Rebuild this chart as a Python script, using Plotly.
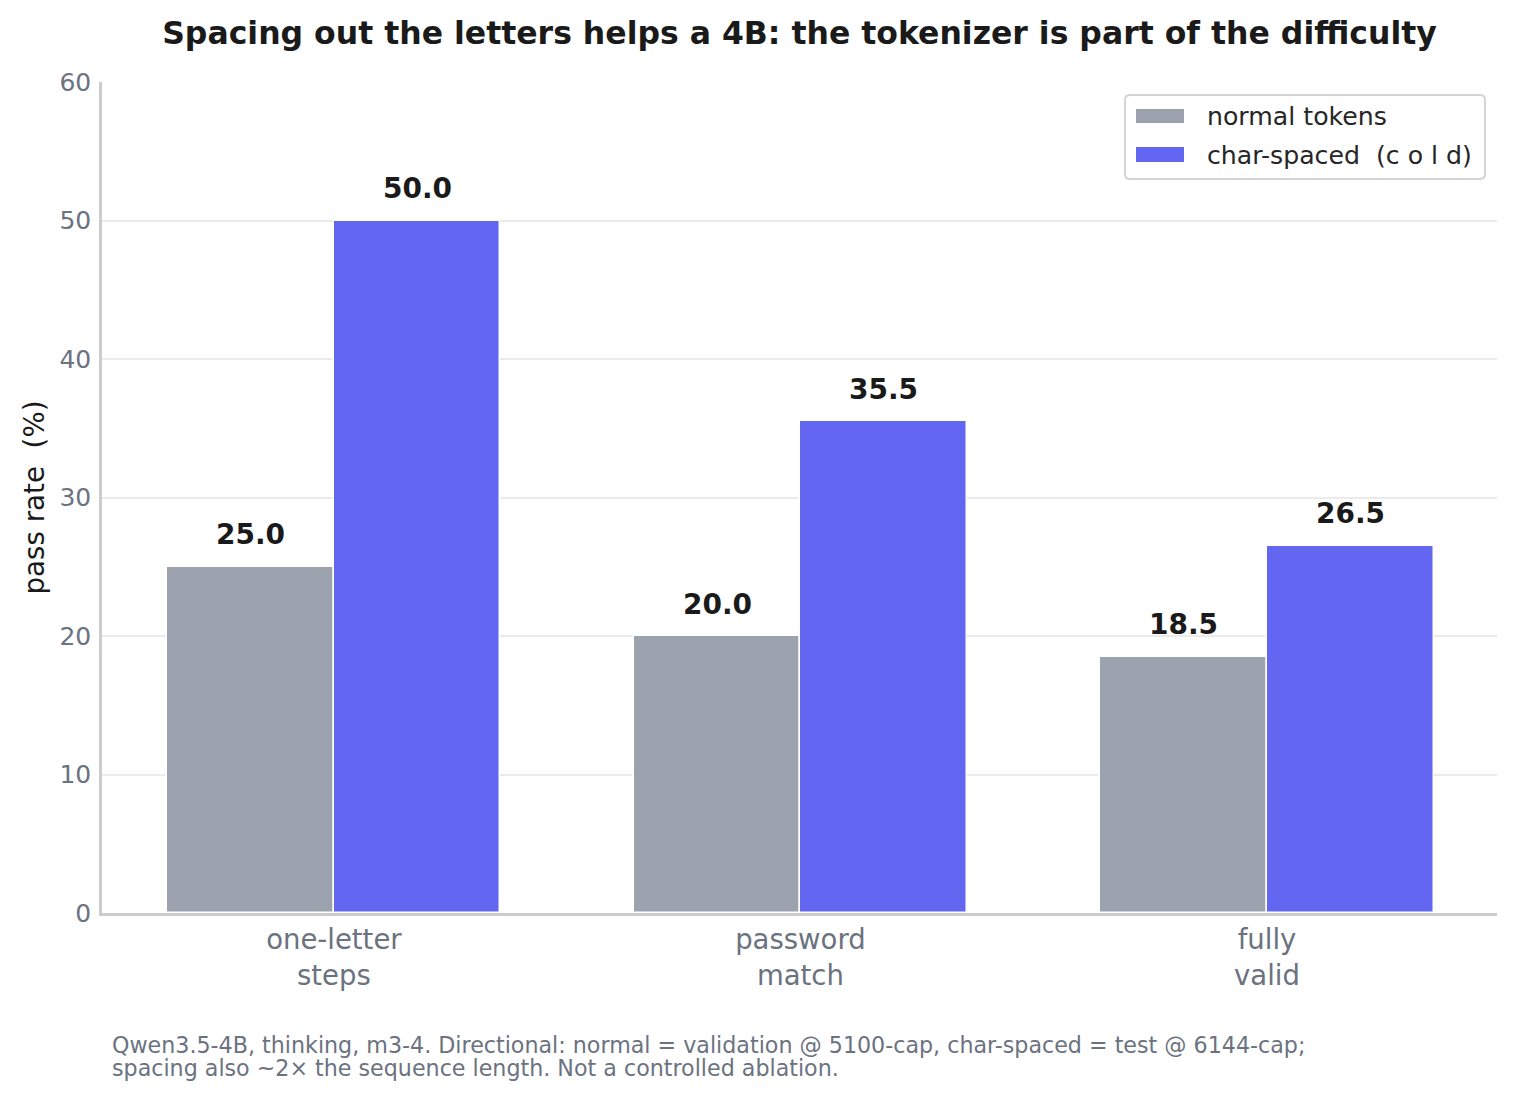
import plotly.graph_objects as go

categories = ["one-letter<br>steps", "password<br>match", "fully<br>valid"]
normal_tokens = [25.0, 20.0, 18.5]
char_spaced = [50.0, 35.5, 26.5]
series_names = ["normal tokens", "char-spaced  (c o l d)"]
series_colors = ["#9ca3af", "#6366f1"]
y_ticks = [0, 10, 20, 30, 40, 50, 60]

FONT = "DejaVu Sans"
xpos = list(range(len(categories)))
W = 0.357

L, R, T, B = 102, 20, 82, 186
FW, FH = 1517, 1099
PW, PH = FW - L - R, FH - T - B


def px(xp):
    return (xp - L) / PW


def py(yp):
    return (FH - B - yp) / PH


fig = go.Figure()
for name, vals, col, off in ((series_names[0], normal_tokens, series_colors[0], -W),
                             (series_names[1], char_spaced, series_colors[1], 0)):
    fig.add_trace(go.Bar(
        x=xpos, y=vals, name=name, width=W, offset=off,
        marker=dict(color=col, line=dict(color="white", width=1.5)),
        showlegend=False,
    ))

for vals, off in ((normal_tokens, -W / 2), (char_spaced, W / 2)):
    for xi, v in zip(xpos, vals):
        fig.add_annotation(
            x=xi + off, y=v, text=f"<b>{v:.1f}</b>", showarrow=False,
            yanchor="middle", yshift=32,
            font=dict(family=FONT, size=28, color="#1a1a1a"),
        )

# footnote
foot_lines = [
    "Qwen3.5-4B, thinking, m3-4. Directional: normal = validation @ 5100-cap, char-spaced = test @ 6144-cap;",
    "spacing also ~2× the sequence length. Not a controlled ablation.",
]
for line, yc in zip(foot_lines, (1045, 1068)):
    fig.add_annotation(
        xref="paper", yref="paper", x=px(110), y=py(yc), xanchor="left", yanchor="middle",
        showarrow=False, text=line,
        font=dict(family=FONT, size=22.2, color="#6b7280"),
    )

# legend box (rounded)
bx0, bx1, by0, by1 = px(1125), px(1485), py(179), py(95)
rx, ry = 5 / PW, 5 / PH
path = (f"M {bx0+rx},{by0} L {bx1-rx},{by0} Q {bx1},{by0} {bx1},{by0+ry} "
        f"L {bx1},{by1-ry} Q {bx1},{by1} {bx1-rx},{by1} "
        f"L {bx0+rx},{by1} Q {bx0},{by1} {bx0},{by1-ry} "
        f"L {bx0},{by0+ry} Q {bx0},{by0} {bx0+rx},{by0} Z")
fig.add_shape(type="path", path=path, xref="paper", yref="paper",
              line=dict(color="#d4d4d4", width=2), fillcolor="rgba(255,255,255,0.85)", layer="above")
for name, col, (sy0, sy1, ty) in zip(series_names, series_colors, ((109, 123, 117), (147, 162, 155))):
    fig.add_shape(type="rect", xref="paper", yref="paper",
                  x0=px(1136), x1=px(1184), y0=py(sy1), y1=py(sy0),
                  fillcolor=col, line=dict(width=0), layer="above")
    fig.add_annotation(xref="paper", yref="paper", x=px(1205), y=py(ty),
                       xanchor="left", yanchor="middle", showarrow=False, text=name,
                       font=dict(family=FONT, size=25.2, color="#262626"))

fig.update_layout(
    width=FW, height=FH,
    margin=dict(l=L, r=R, t=T, b=B),
    paper_bgcolor="white", plot_bgcolor="white",
    font=dict(family=FONT, color="#1a1a1a"),
    title=dict(
        text="<b>Spacing out the letters helps a 4B: the tokenizer is part of the difficulty</b>",
        x=0.5, xref="paper", xanchor="center", y=1 - 33 / FH, yanchor="middle",
        font=dict(family=FONT, size=31.5, color="#1a1a1a"),
    ),
    showlegend=False,
    bargap=0,
)

fig.update_xaxes(
    range=[-0.497, 2.493], tickvals=xpos, ticktext=categories,
    showgrid=False, zeroline=False,
    showline=True, linecolor="#cccccc", linewidth=2.5,
    ticks="", tickfont=dict(family=FONT, size=27.5, color="#6b7280"),
)
fig.update_yaxes(
    range=[0, 60], tickvals=y_ticks,
    showgrid=True, gridcolor="#ebebeb", gridwidth=1.5, zeroline=False,
    showline=True, linecolor="#cccccc", linewidth=2.5,
    ticks="outside", ticklen=3, tickcolor="rgba(0,0,0,0)",
    tickfont=dict(family=FONT, size=25, color="#6b7280"),
    title=dict(text="pass rate  (%)", standoff=7,
               font=dict(family=FONT, size=27.7, color="#1a1a1a")),
)

fig.write_html("out.html")
